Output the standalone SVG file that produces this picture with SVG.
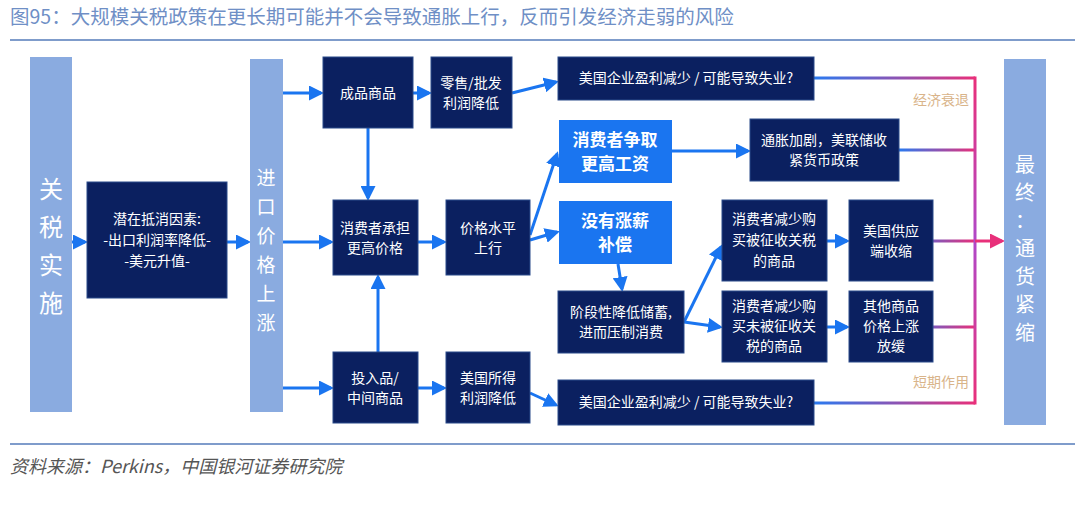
<svg xmlns="http://www.w3.org/2000/svg" width="1080" height="505" viewBox="0 0 1080 505">
<style>
text{font-family:"Noto Sans CJK SC","Liberation Sans",sans-serif}
.n{fill:#0b2060;stroke:#2a4a8a;stroke-width:1}
.b{fill:#1a75f0}
.bar{fill:#8aabe0}
.t{fill:#fff;font-size:14px;text-anchor:middle}
.tb{fill:#fff;font-size:17px;font-weight:bold;text-anchor:middle}
.v{fill:#fff;text-anchor:middle}
.v1{font-size:24px}
.v2{font-size:20px}
.v3{font-size:19px}
.a{stroke:#1a75f0;stroke-width:3;fill:none;marker-end:url(#ah)}
.g{stroke-width:3;fill:none}
.lab{fill:#d9b48a;font-size:14px}
</style>
<defs>
<marker id="ah" markerWidth="5" markerHeight="5" refX="4" refY="2.5" orient="auto" markerUnits="strokeWidth"><path d="M0,0L5,2.5L0,5z" fill="#1a75f0"/></marker>
<marker id="ap" markerWidth="5" markerHeight="5" refX="4" refY="2.5" orient="auto" markerUnits="strokeWidth"><path d="M0,0L5,2.5L0,5z" fill="#e8307a"/></marker>
<linearGradient id="gr" gradientUnits="userSpaceOnUse" x1="814" y1="0" x2="975" y2="0"><stop offset="0" stop-color="#2a7af0"/><stop offset="1" stop-color="#e8307a"/></linearGradient>
<linearGradient id="gr2" gradientUnits="userSpaceOnUse" x1="899" y1="0" x2="975" y2="0"><stop offset="0" stop-color="#2a7af0"/><stop offset="1" stop-color="#e8307a"/></linearGradient>
<linearGradient id="gv" gradientUnits="userSpaceOnUse" x1="0" y1="78" x2="0" y2="403"><stop offset="0" stop-color="#e8307a"/><stop offset="0.5" stop-color="#b048c8"/><stop offset="1" stop-color="#e8307a"/></linearGradient>
</defs>
<text x="10" y="24" fill="#6f8fc6" font-size="19.5">图95：大规模关税政策在更长期可能并不会导致通胀上行，反而引发经济走弱的风险</text>
<rect x="10" y="39" width="1065" height="2" fill="#7f9ccb"/>
<rect x="10" y="443" width="1065" height="2" fill="#7f9ccb"/>
<text x="10" y="473" fill="#555" font-size="18" font-style="italic">资料来源：Perkins，中国银河证券研究院</text>

<g id="connectors">
<path class="a" d="M72,242H85"/>
<path class="a" d="M227,242H248"/>
<path class="a" d="M283,93H321"/>
<path class="a" d="M283,242H331"/>
<path class="a" d="M283,388H331"/>
<path class="a" d="M368,128V198"/>
<path class="a" d="M378,352V277"/>
<path class="a" d="M413,93H429"/>
<path class="a" d="M418,242H444"/>
<path class="a" d="M418,388H444"/>
<path class="a" d="M512,93L556,82"/>
<path class="a" d="M530,235L557,154"/>
<path class="a" d="M530,240L557,232"/>
<path class="a" d="M530,393L556,405"/>
<path class="a" d="M672,151H748"/>
<path class="a" d="M618,264L622,289"/>
<path class="a" d="M684,322L721,247"/>
<path class="a" d="M684,322L720,327"/>
<path class="a" d="M827,241H847"/>
<path class="a" d="M827,327H847"/>
<path class="g" stroke="url(#gr)" d="M814,78H975"/>
<path class="g" stroke="url(#gr)" d="M814,403H975"/>
<path class="g" stroke="url(#gr2)" d="M899,150H975"/>
<path class="g" stroke="url(#gr2)" d="M933,241H975"/>
<path class="g" stroke="url(#gr2)" d="M933,327H975"/>
<path class="g" stroke="url(#gv)" d="M975,76.5V404.5"/>
<path class="g" stroke="#e8307a" marker-end="url(#ap)" d="M975,241H1002"/>
</g>
<text class="lab" x="913" y="105">经济衰退</text>
<text class="lab" x="913" y="387">短期作用</text>

<g id="tariff"><rect class="bar" x="30" y="57" width="42" height="355"/><text class="v v1" x="51" y="198">关</text><text class="v v1" x="51" y="236">税</text><text class="v v1" x="51" y="274">实</text><text class="v v1" x="51" y="312">施</text></g>
<g id="offset"><rect class="n" x="87" y="182" width="140" height="116"/><text class="t" x="157" y="224">潜在抵消因素:</text><text class="t" x="157" y="245">-出口利润率降低-</text><text class="t" x="157" y="266">-美元升值-</text></g>
<g id="import"><rect class="bar" x="250" y="59" width="33" height="353"/><text class="v v3" x="266" y="185">进</text><text class="v v3" x="266" y="214">口</text><text class="v v3" x="266" y="243">价</text><text class="v v3" x="266" y="272">格</text><text class="v v3" x="266" y="301">上</text><text class="v v3" x="266" y="330">涨</text></g>
<g id="finished"><rect class="n" x="323" y="57" width="90" height="71"/><text class="t" x="368" y="98">成品商品</text></g>
<g id="retail"><rect class="n" x="431" y="57" width="81" height="71"/><text class="t" x="471" y="88">零售/批发</text><text class="t" x="471" y="108">利润降低</text></g>
<g id="consumer"><rect class="n" x="333" y="200" width="85" height="75"/><text class="t" x="375" y="233">消费者承担</text><text class="t" x="375" y="253">更高价格</text></g>
<g id="pricelevel"><rect class="n" x="446" y="200" width="84" height="75"/><text class="t" x="488" y="233">价格水平</text><text class="t" x="488" y="253">上行</text></g>
<g id="inputs"><rect class="n" x="333" y="352" width="85" height="71"/><text class="t" x="375" y="383">投入品/</text><text class="t" x="375" y="403">中间商品</text></g>
<g id="usprofit"><rect class="n" x="446" y="352" width="84" height="71"/><text class="t" x="488" y="383">美国所得</text><text class="t" x="488" y="403">利润降低</text></g>
<g id="corp1"><rect class="n" x="558" y="57" width="256" height="43"/><text class="t" x="686" y="83">美国企业盈利减少 / 可能导致失业?</text></g>
<g id="wages"><rect class="b" x="559" y="120" width="113" height="63"/><text class="tb" x="615" y="146">消费者争取</text><text class="tb" x="615" y="170">更高工资</text></g>
<g id="inflation"><rect class="n" x="750" y="119" width="149" height="62"/><text class="t" x="824" y="145">通胀加剧，美联储收</text><text class="t" x="824" y="165">紧货币政策</text></g>
<g id="nowage"><rect class="b" x="559" y="201" width="113" height="63"/><text class="tb" x="615" y="227">没有涨薪</text><text class="tb" x="615" y="251">补偿</text></g>
<g id="savings"><rect class="n" x="558" y="291" width="126" height="62"/><text class="t" x="621" y="317">阶段性降低储蓄,</text><text class="t" x="621" y="337">进而压制消费</text></g>
<g id="tariffed"><rect class="n" x="722" y="200" width="105" height="81"/><text class="t" x="774" y="224">消费者减少购</text><text class="t" x="774" y="245">买被征收关税</text><text class="t" x="774" y="266">的商品</text></g>
<g id="supply"><rect class="n" x="849" y="200" width="84" height="81"/><text class="t" x="891" y="236">美国供应</text><text class="t" x="891" y="256">端收缩</text></g>
<g id="untariffed"><rect class="n" x="722" y="291" width="105" height="71"/><text class="t" x="774" y="311">消费者减少购</text><text class="t" x="774" y="331">买未被征收关</text><text class="t" x="774" y="351">税的商品</text></g>
<g id="others"><rect class="n" x="849" y="291" width="84" height="71"/><text class="t" x="891" y="311">其他商品</text><text class="t" x="891" y="331">价格上涨</text><text class="t" x="891" y="351">放缓</text></g>
<g id="corp2"><rect class="n" x="558" y="380" width="256" height="45"/><text class="t" x="686" y="407">美国企业盈利减少 / 可能导致失业?</text></g>
<g id="deflation"><rect class="bar" x="1004" y="59" width="42" height="366"/><text class="v v2" x="1025" y="172">最</text><text class="v v2" x="1025" y="200">终</text><text class="v v2" x="1025" y="228">：</text><text class="v v2" x="1025" y="256">通</text><text class="v v2" x="1025" y="284">货</text><text class="v v2" x="1025" y="312">紧</text><text class="v v2" x="1025" y="340">缩</text></g>
</svg>
